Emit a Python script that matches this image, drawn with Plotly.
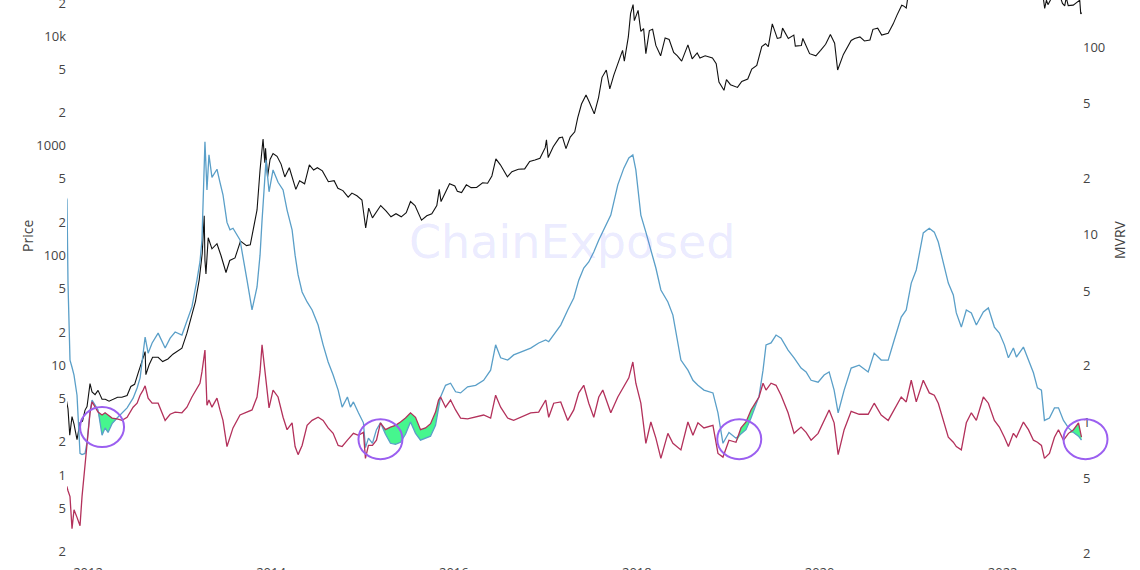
import numpy as np
import pandas as pd
import plotly.graph_objects as go

# ---------------- data ----------------
mvrv_dates = [
    "2011-10-05","2011-10-09","2011-10-13","2011-10-21","2011-10-29","2011-11-06","2011-11-18","2011-11-30","2011-12-08","2011-12-20","2011-12-28",
    "2012-01-09","2012-01-17","2012-01-29","2012-02-10","2012-02-26","2012-03-09","2012-03-21","2012-04-06","2012-04-26","2012-05-16",
    "2012-06-05","2012-06-29","2012-07-15","2012-07-27","2012-08-08","2012-08-16","2012-08-28","2012-09-13","2012-10-07","2012-11-04",
    "2012-11-24","2012-12-14","2013-01-10","2013-01-30","2013-02-19","2013-03-11","2013-03-23","2013-03-31","2013-04-04","2013-04-12",
    "2013-04-20","2013-04-28","2013-05-10","2013-05-30","2013-06-11","2013-06-23","2013-07-09","2013-07-21","2013-08-02","2013-08-30",
    "2013-09-27","2013-10-17","2013-11-06","2013-11-18","2013-11-26","2013-12-04","2013-12-12","2013-12-24","2014-01-09","2014-01-29",
    "2014-02-18","2014-03-06","2014-03-26","2014-04-07","2014-04-19","2014-05-05","2014-05-25","2014-06-14","2014-07-08","2014-07-28",
    "2014-08-17","2014-09-06","2014-09-26","2014-10-12","2014-11-02","2014-11-14","2014-11-26","2014-12-16","2015-01-05","2015-01-13",
    "2015-01-25","2015-02-10","2015-02-26","2015-03-14","2015-04-03","2015-04-23","2015-05-13","2015-06-02","2015-06-22","2015-07-12",
    "2015-08-01","2015-08-21","2015-09-10","2015-09-30","2015-10-20","2015-11-01","2015-11-09","2015-11-29","2015-12-19","2016-01-08",
    "2016-01-28","2016-02-25","2016-03-28","2016-04-29","2016-05-27","2016-06-16","2016-07-06","2016-08-03","2016-08-27","2016-09-24",
    "2016-11-03","2016-12-05","2017-01-02","2017-01-14","2017-02-03","2017-03-03","2017-03-31","2017-04-24","2017-05-14","2017-06-03",
    "2017-06-23","2017-07-13","2017-08-02","2017-08-18","2017-09-19","2017-10-17","2017-11-10","2017-11-30","2017-12-16","2017-12-28",
    "2018-01-17","2018-02-06","2018-02-26","2018-03-18","2018-04-07","2018-05-05","2018-05-25","2018-06-26","2018-07-24","2018-08-13",
    "2018-09-02","2018-09-26","2018-11-01","2018-11-21","2018-12-11","2019-01-04","2019-02-01","2019-02-21","2019-03-13","2019-04-02",
    "2019-04-22","2019-05-04","2019-05-20","2019-06-01","2019-06-21","2019-07-11","2019-07-31","2019-08-28","2019-09-21","2019-10-19",
    "2019-11-08","2019-11-28","2019-12-26","2020-01-19","2020-02-08","2020-02-28","2020-03-15","2020-04-08","2020-05-06","2020-06-07",
    "2020-07-13","2020-08-06","2020-09-03","2020-10-01","2020-10-25","2020-11-22","2020-12-12","2021-01-01","2021-01-21","2021-02-18",
    "2021-03-14","2021-04-03","2021-04-19","2021-05-09","2021-05-29","2021-06-18","2021-06-30","2021-07-20","2021-08-09","2021-08-29",
    "2021-09-18","2021-10-16","2021-11-05","2021-11-29","2021-12-19","2022-01-08","2022-01-24","2022-02-13","2022-02-25","2022-03-25",
    "2022-04-14","2022-05-04","2022-05-20","2022-06-05","2022-06-17","2022-07-07","2022-07-27","2022-08-12","2022-09-01","2022-09-21",
    "2022-10-11","2022-10-31","2022-11-12",
]

lth_mvrv = [
    16.0, 15.3, 5.5, 2.14, 1.96, 1.78, 1.39, 0.68, 0.67, 0.68, 0.78,
    1.14, 1.31, 1.23, 1.16, 0.85, 0.93, 0.88, 0.98, 1.05, 1.12,
    1.19, 1.34, 1.52, 1.72, 2.28, 2.84, 2.33, 2.64, 2.98, 2.48,
    2.80, 3.02, 2.91, 3.42, 4.11, 5.71, 7.14, 9.35, 15.3, 31.2,
    17.3, 26.6, 20.2, 22.3, 19.0, 16.3, 11.6, 10.6, 10.8, 9.35,
    5.71, 3.96, 5.25, 7.76, 11.9, 18.4, 25.0, 16.9, 22.1, 19.0,
    17.3, 13.5, 10.6, 7.76, 6.09, 4.94, 4.37, 3.96, 3.29, 2.58,
    2.09, 1.78, 1.48, 1.20, 1.36, 1.20, 1.28, 1.12, 0.99, 0.73,
    0.82, 0.77, 0.91, 0.99, 0.86, 0.77, 0.76, 0.78, 0.86, 1.00,
    0.87, 0.80, 0.82, 0.84, 0.96, 1.19, 1.36, 1.57, 1.61, 1.45,
    1.43, 1.54, 1.57, 1.67, 1.89, 2.58, 2.20, 2.14, 2.28, 2.36,
    2.48, 2.64, 2.74, 2.68, 2.91, 3.29, 3.96, 4.59, 5.71, 6.63,
    7.14, 8.07, 9.35, 10.3, 12.7, 18.4, 22.6, 25.6, 26.6, 22.1,
    12.7, 10.3, 8.27, 6.63, 5.06, 4.37, 3.72, 2.14, 1.89, 1.67,
    1.57, 1.48, 1.43, 1.12, 0.77, 0.88, 0.82, 0.86, 0.91, 1.05,
    1.25, 1.37, 1.89, 2.58, 2.64, 2.91, 2.80, 2.42, 2.20, 1.94,
    1.85, 1.67, 1.63, 1.78, 1.85, 1.48, 1.12, 1.48, 1.94, 2.01,
    1.85, 2.33, 2.14, 2.14, 2.74, 3.63, 3.96, 5.51, 6.47, 10.2,
    10.8, 10.3, 9.12, 7.14, 5.51, 4.76, 3.82, 3.21, 3.96, 3.82,
    3.29, 3.86, 4.06, 3.21, 2.98, 2.58, 2.20, 2.48, 2.22, 2.51,
    2.14, 1.83, 1.52, 1.48, 1.02, 1.05, 1.19, 1.19, 1.02, 0.93,
    0.88, 0.84, 0.80,
]

sth_mvrv = [
    0.46, 0.45, 0.43, 0.40, 0.27, 0.34, 0.31, 0.28, 0.40, 0.58, 0.77,
    1.12, 1.28, 1.20, 1.13, 1.09, 1.12, 1.09, 1.05, 1.04, 1.02,
    1.06, 1.20, 1.26, 1.39, 1.48, 1.56, 1.34, 1.26, 1.26, 1.02,
    1.10, 1.13, 1.12, 1.20, 1.36, 1.52, 1.61, 1.85, 2.01, 2.42,
    1.23, 1.31, 1.20, 1.34, 1.16, 1.02, 0.74, 0.83, 0.93, 1.09,
    1.13, 1.16, 1.36, 1.85, 2.58, 2.09, 1.57, 1.19, 1.48, 1.36,
    1.06, 0.91, 0.99, 0.74, 0.67, 0.75, 0.96, 1.02, 1.06, 1.02,
    0.93, 0.87, 0.75, 0.74, 0.80, 0.84, 0.87, 0.85, 0.88, 0.64,
    0.75, 0.75, 0.80, 0.99, 0.91, 0.94, 0.96, 1.00, 1.05, 1.12,
    1.06, 0.91, 0.93, 0.98, 1.13, 1.31, 1.36, 1.20, 1.31, 1.16,
    1.05, 1.04, 1.06, 1.09, 1.05, 1.39, 1.20, 1.05, 1.02, 1.06,
    1.12, 1.13, 1.31, 1.06, 1.26, 1.28, 1.02, 1.16, 1.43, 1.57,
    1.26, 1.06, 1.36, 1.48, 1.12, 1.36, 1.54, 1.72, 2.09, 1.61,
    1.26, 0.77, 1.00, 0.82, 0.64, 0.87, 0.77, 0.71, 1.00, 0.85,
    0.99, 0.93, 0.96, 0.68, 0.65, 0.80, 0.78, 0.93, 1.00, 1.16,
    1.28, 1.36, 1.61, 1.48, 1.61, 1.57, 1.39, 1.12, 0.87, 0.94,
    0.88, 0.80, 0.87, 1.02, 1.16, 0.99, 0.67, 0.91, 1.14, 1.10,
    1.10, 1.26, 1.09, 1.02, 1.16, 1.36, 1.28, 1.67, 1.28, 1.67,
    1.43, 1.39, 1.26, 1.02, 0.83, 0.78, 0.74, 0.71, 0.99, 1.12,
    1.02, 1.36, 1.26, 1.02, 0.94, 0.83, 0.74, 0.87, 0.83, 1.00,
    0.91, 0.80, 0.78, 0.75, 0.64, 0.68, 0.83, 0.91, 0.80, 0.87,
    0.91, 0.99, 0.83,
]

price_dates = [
    "2011-10-05","2011-10-13","2011-10-20","2011-10-29","2011-11-06","2011-11-18","2011-11-30","2011-12-10","2011-12-20","2011-12-28",
    "2012-01-09","2012-01-17","2012-01-29","2012-02-10","2012-02-26","2012-03-10","2012-03-25","2012-04-10","2012-04-28","2012-05-15",
    "2012-06-05","2012-06-20","2012-07-05","2012-07-20","2012-08-05","2012-08-16","2012-08-19","2012-09-01","2012-09-15","2012-10-07",
    "2012-10-25","2012-11-15","2012-12-05","2012-12-25","2013-01-10","2013-01-30","2013-02-19","2013-03-05","2013-03-20","2013-04-01",
    "2013-04-09","2013-04-12","2013-04-16","2013-04-25","2013-05-10","2013-05-30","2013-06-15","2013-07-05","2013-07-20","2013-08-10",
    "2013-09-01","2013-09-25","2013-10-10","2013-10-25","2013-11-06","2013-11-18","2013-11-30","2013-12-07","2013-12-10","2013-12-18",
    "2013-12-28","2014-01-09","2014-01-25","2014-02-10","2014-02-25","2014-03-15","2014-04-10","2014-04-25","2014-05-15","2014-06-03",
    "2014-06-20","2014-07-05","2014-07-25","2014-08-18","2014-09-10","2014-09-25","2014-10-15","2014-11-05","2014-11-20","2014-12-10",
    "2014-12-30","2015-01-14","2015-01-26","2015-02-10","2015-02-28","2015-03-15","2015-04-05","2015-04-25","2015-05-15","2015-06-05",
    "2015-06-25","2015-07-12","2015-07-30","2015-08-25","2015-09-15","2015-10-05","2015-10-25","2015-11-04","2015-11-11","2015-11-30",
    "2015-12-15","2016-01-05","2016-01-15","2016-02-01","2016-02-20","2016-03-10","2016-04-01","2016-04-25","2016-05-15","2016-06-01",
    "2016-06-17","2016-07-05","2016-08-02","2016-08-20","2016-09-15","2016-10-10","2016-10-30","2016-11-20","2016-12-10","2016-12-31",
    "2017-01-05","2017-01-12","2017-02-01","2017-02-25","2017-03-10","2017-03-24","2017-04-10","2017-04-28","2017-05-10","2017-05-25",
    "2017-06-12","2017-06-25","2017-07-15","2017-08-01","2017-08-15","2017-09-01","2017-09-15","2017-10-01","2017-10-20","2017-11-05",
    "2017-11-12","2017-11-28","2017-12-07","2017-12-17","2017-12-22","2018-01-06","2018-01-17","2018-01-28","2018-02-06","2018-02-20",
    "2018-03-05","2018-03-18","2018-04-06","2018-04-24","2018-05-10","2018-05-28","2018-06-12","2018-06-29","2018-07-24","2018-08-10",
    "2018-08-30","2018-09-10","2018-10-01","2018-10-30","2018-11-14","2018-11-25","2018-12-15","2018-12-25","2019-01-10","2019-02-07",
    "2019-02-24","2019-03-20","2019-04-05","2019-04-25","2019-05-15","2019-05-30","2019-06-10","2019-06-26","2019-07-16","2019-07-30",
    "2019-08-06","2019-08-29","2019-09-20","2019-09-26","2019-10-20","2019-10-26","2019-11-22","2019-12-17","2020-01-05","2020-01-25",
    "2020-02-13","2020-03-01","2020-03-13","2020-04-05","2020-05-06","2020-05-20","2020-06-10","2020-06-28","2020-07-20","2020-08-01",
    "2020-08-20","2020-09-05","2020-10-01","2020-10-21","2020-11-05","2020-11-24","2020-12-01","2020-12-12","2020-12-20","2021-01-08",
    "2021-02-20","2021-04-14","2021-05-20","2021-07-20","2021-09-07","2021-11-10","2021-12-15","2022-01-23","2022-03-28","2022-05-12",
    "2022-06-05","2022-06-13","2022-06-18","2022-06-25","2022-07-01","2022-07-20","2022-08-15","2022-08-28","2022-09-06","2022-09-12",
    "2022-09-20","2022-10-10","2022-10-25","2022-11-05","2022-11-09","2022-11-13",
]

price = [
    5.0, 4.0, 2.3, 3.4, 2.9, 2.1, 3.0, 3.1, 3.9, 4.2,
    6.8, 5.7, 5.4, 5.9, 4.9, 4.9, 4.7, 4.9, 5.1, 5.1,
    5.3, 6.4, 6.7, 8.6, 10.9, 13.3, 8.2, 10.1, 11.8, 11.8,
    10.8, 11.4, 12.6, 13.4, 14.3, 19.6, 29.4, 38, 60, 104,
    230, 90, 68, 145, 115, 128, 100, 70, 90, 95,
    135, 123, 125, 190, 260, 600, 1150, 700, 950, 520,
    750, 850, 800, 680, 520, 630, 400, 480, 450, 670,
    600, 630, 590, 470, 480, 410, 390, 340, 370, 350,
    320, 178, 270, 220, 255, 285, 255, 225, 240, 225,
    245, 310, 285, 210, 230, 240, 285, 400, 310, 375,
    450, 430, 385, 375, 440, 415, 417, 460, 455, 530,
    760, 670, 520, 580, 610, 615, 720, 740, 770, 960,
    1130, 780, 980, 1180, 1200, 940, 1200, 1340, 1800, 2400,
    2900, 2500, 1950, 2750, 4200, 4900, 3300, 4400, 6000, 7400,
    5900, 9800, 16000, 19300, 13800, 17100, 11000, 11700, 6900, 11200,
    11500, 8200, 6600, 9600, 9300, 7100, 6600, 5900, 8300, 6200,
    7000, 6300, 6600, 6300, 5600, 3800, 3200, 4000, 3600, 3400,
    3850, 4050, 5000, 5400, 8000, 8500, 8000, 12900, 9500, 9700,
    11800, 9500, 10200, 8100, 8200, 9500, 6900, 6600, 7400, 8400,
    10300, 8600, 4900, 6800, 9100, 9500, 9800, 9000, 9200, 11500,
    11800, 10200, 10600, 12900, 15500, 19100, 18800, 18000, 23800, 40000,
    56000, 63000, 40000, 29800, 52000, 67000, 48000, 35000, 47000, 29000,
    29900, 22500, 17800, 21200, 19300, 23200, 24200, 19800, 18800, 22400,
    18900, 19100, 20100, 21200, 15900, 16300,
]

# highlighted bottoms (centre date, MVRV level)
circle_dates = ["2012-02-26", "2015-03-14", "2019-02-14", "2022-11-28"]
circle_levels = [0.94, 0.81, 0.81, 0.81]

price_ticks = [0.2, 0.5, 1, 2, 5, 10, 20, 50, 100, 200, 500, 1000, 2000, 5000, 10000, 20000]
price_ticktext = ["2", "5", "1", "2", "5", "10", "2", "5", "100", "2", "5", "1000", "2", "5", "10k", "2"]
mvrv_ticks = [0.2, 0.5, 1, 2, 5, 10, 20, 50, 100]
mvrv_ticktext = ["2", "5", "1", "2", "5", "10", "2", "5", "100"]

# ---------------- layout constants ----------------
W, H = 1140, 570
ML, MR, MT, MB = 67, 58, 0, 10
x_range = ["2011-10-09", "2022-11-14"]
y_range = [-0.775, 4.328]     # log10 price
y2_range = [-0.736, 2.251]    # log10 MVRV

lth = np.array(lth_mvrv)
sth = np.array(sth_mvrv)
lower = np.minimum(lth, sth)

fig = go.Figure()

# green band where LTH-MVRV falls below STH-MVRV
fig.add_trace(go.Scatter(x=mvrv_dates, y=sth, yaxis="y2", mode="lines",
                         line=dict(width=0, color="rgba(0,0,0,0)"), hoverinfo="skip"))
fig.add_trace(go.Scatter(x=mvrv_dates, y=lower, yaxis="y2", mode="lines",
                         line=dict(width=0, color="rgba(0,0,0,0)"), fill="tonexty",
                         fillcolor="rgba(50,245,130,0.9)", hoverinfo="skip"))

fig.add_trace(go.Scatter(x=mvrv_dates, y=lth, yaxis="y2", mode="lines", name="LTH MVRV",
                         line=dict(color="#5a9fc8", width=1.3)))
fig.add_trace(go.Scatter(x=mvrv_dates, y=sth, yaxis="y2", mode="lines", name="STH MVRV",
                         line=dict(color="#b3315b", width=1.3)))
fig.add_trace(go.Scatter(x=price_dates, y=price, yaxis="y", mode="lines", name="Price",
                         line=dict(color="#111111", width=1.1)))

# circles (paper coords derived from the axis ranges)
pw = W - ML - MR
ph = H - MT - MB
t0, t1 = pd.Timestamp(x_range[0]), pd.Timestamp(x_range[1])
shapes = []
rx, ry = 22 / pw, 20 / ph
for d, v in zip(circle_dates, circle_levels):
    cx = (pd.Timestamp(d) - t0) / (t1 - t0)
    cy = (np.log10(v) - y2_range[0]) / (y2_range[1] - y2_range[0])
    shapes.append(dict(type="circle", xref="paper", yref="paper",
                       x0=cx - rx, x1=cx + rx, y0=cy - ry, y1=cy + ry,
                       line=dict(color="#9b5ff0", width=2)))

axis_font = dict(family="Open Sans, verdana, arial, sans-serif", size=13, color="#444")
title_font = dict(family="Open Sans, verdana, arial, sans-serif", size=14, color="#444")

annotations = [
    dict(text="ChainExposed", xref="paper", yref="paper",
         x=(572 - ML) / pw, y=1 - 242 / ph, showarrow=False,
         font=dict(family="DejaVu Sans", size=46, color="rgba(110,110,255,0.15)")),
    dict(text="Price", xref="paper", yref="paper", x=(27 - ML) / pw, y=1 - 236 / ph,
         showarrow=False, textangle=-90, font=title_font, xanchor="center", yanchor="middle"),
    dict(text="MVRV", xref="paper", yref="paper", x=(1119 - ML) / pw, y=1 - 240 / ph,
         showarrow=False, textangle=-90, font=title_font, xanchor="center", yanchor="middle"),
]

fig.update_layout(
    width=W, height=H,
    margin=dict(l=ML, r=MR, t=MT, b=MB, pad=0),
    paper_bgcolor="white", plot_bgcolor="white",
    showlegend=False,
    font=dict(family="Open Sans, verdana, arial, sans-serif", color="#444"),
    shapes=shapes,
    annotations=annotations,
    xaxis=dict(type="date", range=x_range, showgrid=False, zeroline=False, showline=False,
               ticks="", dtick="M24", tick0="2012-01-01", tickformat="%Y", tickfont=axis_font,
               automargin=False, ticklabelstandoff=3),
    yaxis=dict(type="log", range=y_range, showgrid=False, zeroline=False, showline=False,
               tickmode="array", tickvals=price_ticks, ticktext=price_ticktext,
               tickfont=axis_font, automargin=False, ticklabeloverflow="allow"),
    yaxis2=dict(type="log", range=y2_range, overlaying="y", side="right",
                showgrid=False, zeroline=False, showline=False,
                tickmode="array", tickvals=mvrv_ticks, ticktext=mvrv_ticktext,
                tickfont=axis_font, automargin=False, ticklabeloverflow="allow"),
)

fig.write_html("out.html", config={"displayModeBar": False},
               post_script="document.body.style.margin='0';document.body.style.padding='0';")
